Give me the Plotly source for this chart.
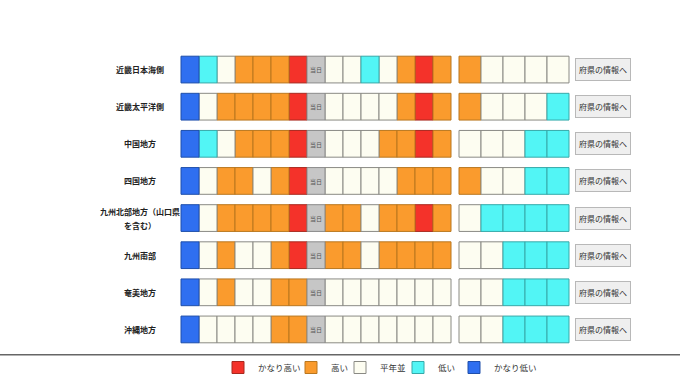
import plotly.graph_objects as go

# ---------------- data ----------------
regions = ["近畿日本海側", "近畿太平洋側", "中国地方", "四国地方",
           "九州北部地方（山口県を含む）", "九州南部", "奄美地方", "沖縄地方"]
region_labels = ["近畿日本海側", "近畿太平洋側", "中国地方", "四国地方",
                 "九州北部地方（山口県<br>を含む）", "九州南部", "奄美地方", "沖縄地方"]

# class codes: 2 かなり高い, 1 高い, 0 平年並, -1 低い, -2 かなり低い
past_days = [
    [-2, -1, 0, 1, 1, 1, 2],
    [-2, 0, 1, 1, 1, 1, 2],
    [-2, -1, 0, 1, 1, 1, 2],
    [-2, 0, 1, 1, 0, 1, 2],
    [-2, 0, 1, 1, 1, 1, 2],
    [-2, 0, 1, 0, 0, 1, 2],
    [-2, 0, 1, 0, 0, 1, 1],
    [-2, 0, 0, 0, 0, 1, 1],
]
next_days = [
    [0, 0, -1, 0, 1, 2, 1],
    [0, 0, 0, 0, 1, 2, 1],
    [0, 0, 0, 1, 1, 2, 1],
    [0, 0, 0, 0, 1, 1, 1],
    [1, 1, 0, 1, 1, 2, 1],
    [1, 1, 0, 1, 1, 1, 1],
    [0, 0, 0, 0, 0, 0, 0],
    [0, 0, 0, 0, 0, 0, 0],
]
later_days = [
    [1, 0, 0, 0, 0],
    [1, 0, 0, 0, -1],
    [0, 0, 0, -1, -1],
    [1, 0, 0, -1, -1],
    [0, -1, -1, -1, -1],
    [0, 0, -1, -1, -1],
    [0, 0, -1, -1, -1],
    [0, 0, -1, -1, -1],
]
today_label = "当日"
button_label = "府県の情報へ"

class_codes = [2, 1, 0, -1, -2]
class_names = ["かなり高い", "高い", "平年並", "低い", "かなり低い"]

# ---------------- styles ----------------
FILL = {2: "#f4322a", 1: "#fa9b2d", 0: "#fdfdf1", -1: "#52f5f5", -2: "#2f6ff0"}
EDGE = {2: "#a8281e", 1: "#b9771f", 0: "#8a8a84", -1: "#36a9a9", -2: "#1f4faa"}
TODAY_FILL, TODAY_EDGE = "#c6c6c6", "#8a8a8a"
FONT = "Noto Sans CJK JP"

CELL1, GAP, CELL2 = 18, 8, 22        # widths in axis units (1 unit = 1 px)
X_LEFT, X_RIGHT = -181, 499          # axis range
LABEL_X, BUTTON_X = -41, 422
LINE_PX = 14                          # label line spacing
BAR_W = 0.72
LEGEND_SYMBOL_PX = [238, 311, 360, 418, 474]   # legend symbol centres (page px)
FIG_W = 680

# ---------------- build cells ----------------
cells = {c: {"y": [], "base": [], "w": []} for c in class_codes}
today = {"y": [], "base": [], "w": []}

for r, name in enumerate(regions):
    seq = past_days[r] + [None] + next_days[r]
    for i, v in enumerate(seq):
        target = today if v is None else cells[v]
        target["y"].append(name)
        target["base"].append(i * CELL1)
        target["w"].append(CELL1)
    start2 = len(seq) * CELL1 + GAP
    for j, v in enumerate(later_days[r]):
        cells[v]["y"].append(name)
        cells[v]["base"].append(start2 + j * CELL2)
        cells[v]["w"].append(CELL2)

fig = go.Figure()
legend_layout = {}
for k, (c, nm) in enumerate(zip(class_codes, class_names)):
    d = cells[c]
    lg = "legend" if k == 0 else f"legend{k + 1}"
    fig.add_trace(go.Bar(
        orientation="h", y=d["y"], x=d["w"], base=d["base"], width=BAR_W,
        name=nm, marker=dict(color=FILL[c], line=dict(color=EDGE[c], width=1)),
        hoverinfo="skip", showlegend=True, legend=lg,
    ))
    legend_layout[lg] = dict(
        x=(LEGEND_SYMBOL_PX[k] - 20) / FIG_W, xanchor="left",
        y=-0.067, yanchor="middle", orientation="h",
        font=dict(size=8.5, color="#333", family=FONT),
        itemwidth=30, bgcolor="rgba(0,0,0,0)", borderwidth=0,
    )
fig.add_trace(go.Bar(
    orientation="h", y=today["y"], x=today["w"], base=today["base"], width=BAR_W,
    name=today_label, text=[today_label] * len(today["y"]),
    textposition="inside", insidetextanchor="middle", textangle=0,
    insidetextfont=dict(size=6.5, color="#555", family=FONT),
    marker=dict(color=TODAY_FILL, line=dict(color=TODAY_EDGE, width=1)),
    hoverinfo="skip", showlegend=False,
))

annotations = []
for name, lab in zip(regions, region_labels):
    lines = lab.split("<br>")
    n = len(lines)
    for k, ln in enumerate(lines):
        annotations.append(dict(
            x=LABEL_X, y=name, xref="x", yref="y", text="<b>" + ln + "</b>",
            showarrow=False, xanchor="center", yanchor="middle", align="center",
            yshift=((n - 1) / 2 - k) * LINE_PX,
            font=dict(size=8, color="#222", family=FONT),
        ))
    annotations.append(dict(
        x=BUTTON_X, y=name, xref="x", yref="y", text=button_label,
        showarrow=False, xanchor="center", yanchor="middle",
        width=52, height=19, bgcolor="#efefef", bordercolor="#b8b8b8",
        borderwidth=1, font=dict(size=8, color="#333", family=FONT),
    ))

fig.update_layout(
    width=FIG_W, height=382,
    margin=dict(l=0, r=0, t=51, b=32),
    paper_bgcolor="white", plot_bgcolor="white",
    barmode="overlay",
    xaxis=dict(range=[X_LEFT, X_RIGHT], visible=False, fixedrange=True),
    yaxis=dict(type="category", categoryorder="array", categoryarray=regions,
               range=[len(regions) - 0.5, -0.5], visible=False, fixedrange=True),
    annotations=annotations,
    shapes=[dict(type="line", xref="paper", yref="paper", x0=0, x1=1,
                 y0=-0.0227, y1=-0.0227, line=dict(color="#666", width=1.5))],
    font=dict(family=FONT),
    **legend_layout,
)

fig.write_html("out.html", config={"displayModeBar": False},
               post_script="document.body.style.margin='0';")
